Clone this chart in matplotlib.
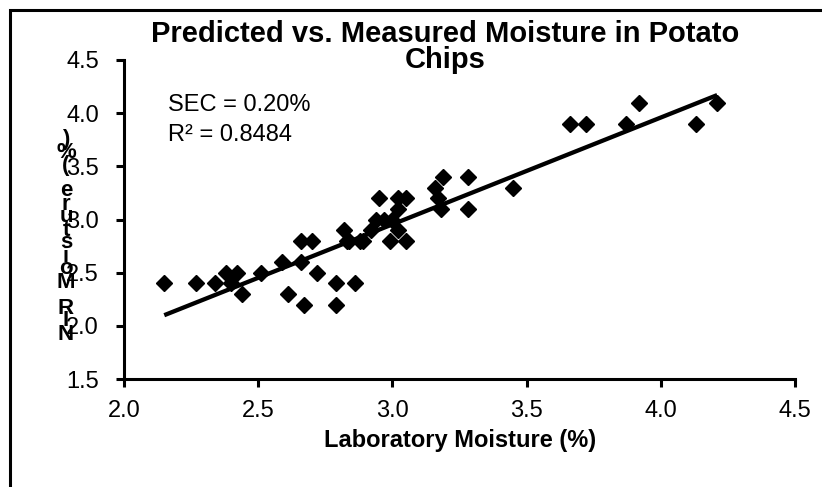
import numpy as np
import matplotlib
matplotlib.use('Agg')
import matplotlib.pyplot as plt
from matplotlib.patches import Rectangle

plt.rcParams['font.family'] = ['Liberation Sans', 'DejaVu Sans']

# laboratory moisture (%) vs NIR predicted moisture (%)
lab_moisture = [2.15, 2.27, 2.34, 2.38, 2.42, 2.40, 2.44, 2.51, 2.59, 2.61,
                2.66, 2.66, 2.70, 2.67, 2.72, 2.79, 2.79, 2.86, 2.82, 2.83,
                2.84, 2.88, 2.89, 2.92, 2.94, 2.97, 3.00, 2.95, 3.02, 3.05,
                3.02, 2.99, 3.05, 3.02, 3.16, 3.19, 3.17, 3.18, 3.28, 3.28,
                3.45, 3.66, 3.72, 3.87, 3.92, 4.13, 4.21]
nir_moisture = [2.4, 2.4, 2.4, 2.5, 2.5, 2.4, 2.3, 2.5, 2.6, 2.3,
                2.6, 2.8, 2.8, 2.2, 2.5, 2.4, 2.2, 2.4, 2.9, 2.8,
                2.8, 2.8, 2.8, 2.9, 3.0, 3.0, 3.0, 3.2, 3.2, 3.2,
                3.1, 2.8, 2.8, 2.9, 3.3, 3.4, 3.2, 3.1, 3.4, 3.1,
                3.3, 3.9, 3.9, 3.9, 4.1, 3.9, 4.1]

# trend line as drawn in the chart
trend_x = [2.15, 4.21]
trend_y = [2.10, 4.17]

x_ticks = [2.0, 2.5, 3.0, 3.5, 4.0, 4.5]
y_ticks = [1.5, 2.0, 2.5, 3.0, 3.5, 4.0, 4.5]

W, H = 822, 487
fig = plt.figure(figsize=(W / 100, H / 100), dpi=100)
ax = fig.add_axes([124 / W, 1 - 379 / H, (795 - 124) / W, (379 - 60) / H])

ax.plot(lab_moisture, nir_moisture, linestyle='none', marker='D',
        markersize=8, color='black', markeredgewidth=1, clip_on=False, zorder=3)
ax.plot(trend_x, trend_y, color='black', linewidth=3.1, zorder=4,
        solid_capstyle='butt')

ax.set_xlim(2.0, 4.5)
ax.set_ylim(1.5, 4.5)
ax.set_xticks(x_ticks)
ax.set_yticks(y_ticks)
ax.set_xticklabels(['%.1f' % v for v in x_ticks])
ax.set_yticklabels(['%.1f' % v for v in y_ticks])

for side in ['top', 'right']:
    ax.spines[side].set_visible(False)
for side in ['left', 'bottom']:
    ax.spines[side].set_linewidth(2.2)
ax.tick_params(axis='both', direction='out', length=6, width=2.2, labelsize=17)
ax.tick_params(axis='y', pad=12)
ax.tick_params(axis='x', pad=9)

ax.text(44 / (795 - 124), 0.86, 'SEC = 0.20%', transform=ax.transAxes,
        fontsize=17, va='center', ha='left')
ax.text(44 / (795 - 124), 0.765, 'R\u00b2 = 0.8484', transform=ax.transAxes,
        fontsize=17, va='center', ha='left')

fig.text(445 / W, 1 - 47 / H, 'Predicted vs. Measured Moisture in Potato\nChips',
         ha='center', va='center', fontsize=21, fontweight='bold', linespacing=0.95)

fig.text(460 / W, 1 - 440 / H, 'Laboratory Moisture (%)', ha='center', va='center',
         fontsize=17, fontweight='bold')

# y label: characters stacked bottom to top, unrotated
ylabel = 'NIR Moisture (%)'
for i, ch in enumerate(ylabel):
    if ch == ' ':
        continue
    fig.text(66 / W, 1 - (334 - i * 13.0) / H, ch, ha='center', va='center',
             fontsize=16, fontweight='bold')

# outer chart frame
fig.add_artist(Rectangle((10 / W, -0.5), 2, 1.5 - 10 / H, transform=fig.transFigure,
                         fill=False, linewidth=2.2, edgecolor='black'))

fig.savefig('out.png', dpi=100)
